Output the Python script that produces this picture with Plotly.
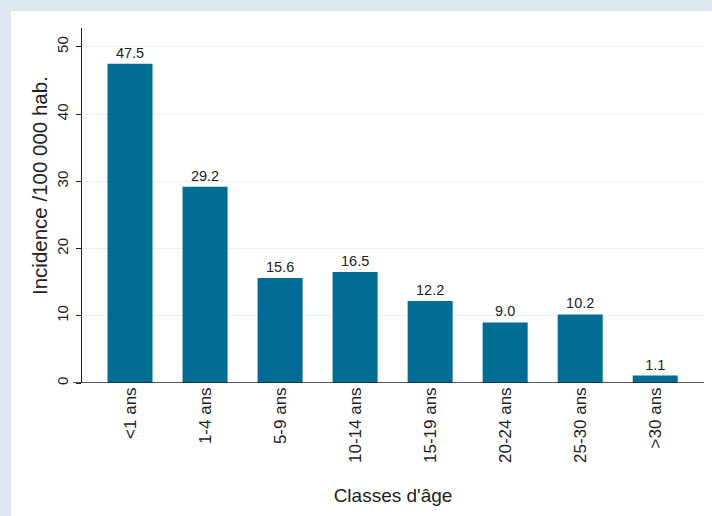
import plotly.graph_objects as go

# Incidence par classe d'âge
classes = ["<1 ans", "1-4 ans", "5-9 ans", "10-14 ans",
           "15-19 ans", "20-24 ans", "25-30 ans", ">30 ans"]
incidence = [47.5, 29.2, 15.6, 16.5, 12.2, 9.0, 10.2, 1.1]
y_ticks = [0, 10, 20, 30, 40, 50]

BAR_COLOR = "#006e94"
FONT = "Liberation Sans, Arial, sans-serif"

fig = go.Figure()

fig.add_trace(go.Bar(x=classes,
                     y=incidence,
                     width=0.6,
                     marker=dict(color=BAR_COLOR, line=dict(width=0)),
                     text=["%.1f" % v for v in incidence],
                     textposition="outside",
                     textfont=dict(size=14.5, color="#222222", family=FONT),
                     cliponaxis=False))

# white panel over the light blue frame
fig.add_shape(type="rect", xref="paper", yref="paper",
              x0=-0.114, x1=1.02, y0=-0.4, y1=1.048,
              fillcolor="white", line=dict(width=0), layer="below")

# x axis line running a bit past the y axis, as in the original
fig.add_shape(type="line", xref="paper", yref="y",
              x0=-0.0145, x1=1.0, y0=0, y1=0,
              line=dict(color="#222222", width=1.3))

# y title sits a bit above the axis middle in the original
fig.add_annotation(text="Incidence /100 000 hab.",
                   xref="paper", yref="paper", x=-0.0675, y=0.555,
                   xanchor="center", yanchor="middle",
                   textangle=-90, showarrow=False,
                   font=dict(size=20.5, color="#222222"))

fig.update_layout(
    width=712, height=516,
    margin=dict(l=82, r=8, t=28, b=133),
    paper_bgcolor="#dce6f1",
    plot_bgcolor="white",
    font=dict(family=FONT, color="#222222"),
    showlegend=False,
    bargap=0.4,
)

fig.update_xaxes(range=[-0.64, 7.65],
                 tickangle=-90,
                 tickfont=dict(size=17),
                 ticks="",
                 showgrid=False,
                 showline=False,
                 zeroline=False,
                 automargin=False,
                 title=dict(text="Classes d'âge", font=dict(size=19), standoff=26))

fig.update_yaxes(range=[0, 52.8],
                 tickvals=y_ticks,
                 tickangle=-90,
                 tickfont=dict(size=15),
                 ticks="outside", ticklen=5, tickcolor="#222222",
                 ticklabelstandoff=2,
                 showline=True, linecolor="#222222", linewidth=1.3,
                 showgrid=True, gridcolor="#eaf0f0", gridwidth=1,
                 zeroline=False,
                 automargin=False)

fig.write_html("out.html",
               config={"displayModeBar": False},
               post_script="document.body.style.margin='0';document.body.style.overflow='hidden';")
